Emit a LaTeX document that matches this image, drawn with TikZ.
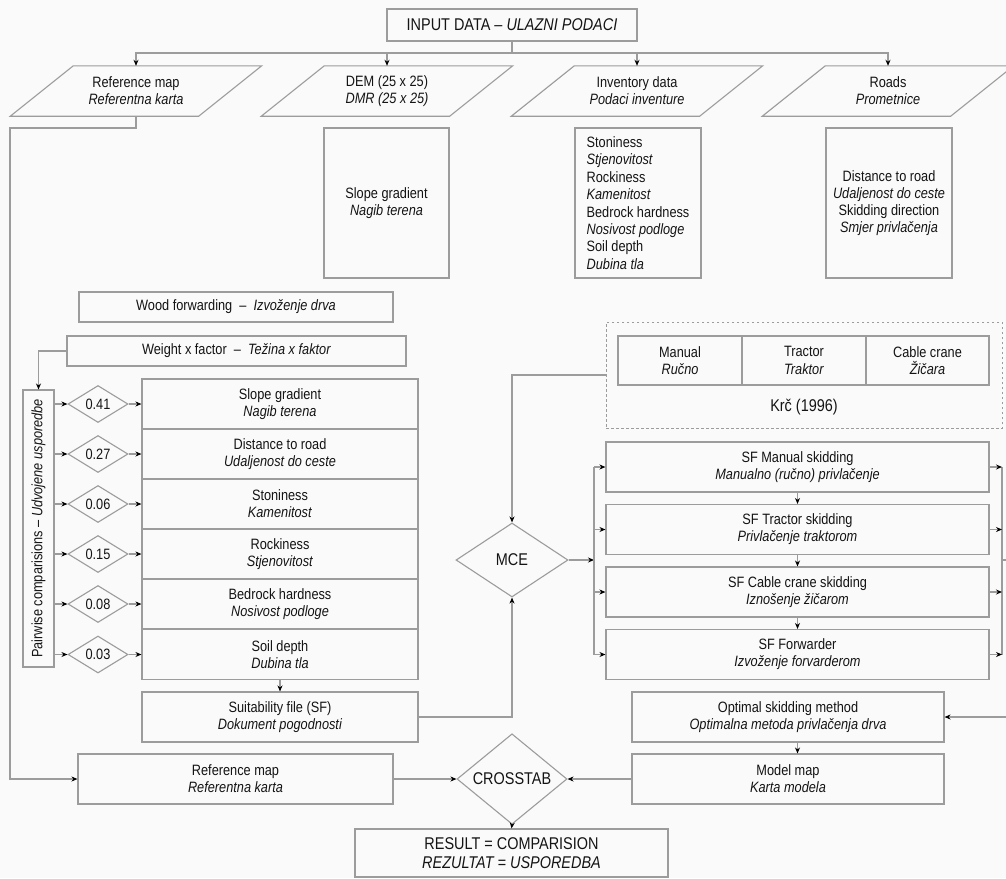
\documentclass[tikz,border=0pt]{standalone}
\usepackage{fontspec}
\setmainfont{Liberation Sans}[FakeStretch=0.85]
\usetikzlibrary{shapes.geometric,arrows.meta,calc}
\definecolor{ln}{HTML}{9C9C9C}
\definecolor{tx}{HTML}{141414}
\tikzset{
  box/.style={draw=ln, line width=1.1pt, rectangle, inner sep=0pt, align=center, text=tx,
              font=\fontsize{15pt}{17.2pt}\selectfont},
  plain/.style={inner sep=0pt, align=center, text=tx, font=\fontsize{15pt}{17.2pt}\selectfont},
  big/.style={font=\fontsize{17pt}{19pt}\selectfont},
  dia/.style={draw=ln, line width=1.1pt, diamond, inner sep=0pt, text=tx,
              font=\fontsize{15pt}{17pt}\selectfont},
  conn/.style={draw=ln, line width=1.1pt},
  arr/.style={draw=ln, line width=1.1pt, -{Stealth[length=6pt,width=5pt,color=black]}},
}
\begin{document}
\begin{tikzpicture}[x=1pt,y=-1pt]
\useasboundingbox (0,0) rectangle (1006,878);
\fill[white!98!black] (0,0) rectangle (1006,878);
\clip (0,0) rectangle (1006,878);

% title
\node[box,big,minimum width=250pt,minimum height=32pt] (title) at (512,25) {INPUT DATA -- \textit{ULAZNI PODACI}};
\coordinate (bus) at (512,53);

% parallelograms
\foreach \n/\x/\a/\b in {p1/136/Reference map/Referentna karta,
                         p2/387/DEM (25 x 25)/DMR (25 x 25),
                         p3/637/Inventory data/Podaci inventure,
                         p4/888/Roads/Prometnice}{
  \node[plain,minimum width=251pt,minimum height=50pt] (\n) at (\x,91) {\a\\\textit{\b}};
  \draw[conn] ([xshift=63pt]\n.north west) -- (\n.north east)
     -- ([xshift=-63pt]\n.south east) -- (\n.south west) -- cycle;
}
\draw[conn] (title.south) -- (bus);
\draw[arr] (bus) -| (p1.north);
\draw[arr] (bus) -| (p2.north);
\draw[arr] (bus) -| (p3.north);
\draw[arr] (bus) -| (p4.north);

% boxes below inputs
\node[box,minimum width=125pt,minimum height=150pt] (b2) at (386.5,203) {Slope gradient\\\textit{Nagib terena}};
\node[box,minimum width=126pt,minimum height=150pt,align=left,font=\fontsize{15pt}{17.4pt}\selectfont] (b3) at (638,203)
  {Stoniness\\\textit{Stjenovitost}\\Rockiness\\\textit{Kamenitost}\\Bedrock hardness\\\textit{Nosivost podloge}\\Soil depth\\\textit{Dubina tla}};
\node[box,minimum width=126pt,minimum height=150pt] (b4) at (889,203)
  {Distance to road\\\textit{Udaljenost do ceste}\\Skidding direction\\\textit{Smjer privlačenja}};

% wood forwarding / weight
\node[box,minimum width=314pt,minimum height=30pt] (wf) at (236,307) {Wood forwarding \ -- \ \textit{Izvoženje drva}};
\node[box,minimum width=339pt,minimum height=30pt] (wx) at (236.5,351) {Weight x factor \ -- \ \textit{Težina x faktor}};

% pairwise box
\node[box,minimum width=31pt,minimum height=277pt] (pw) at (38.5,528.5) {};
\node[plain,rotate=90] (pwt) at (pw.center) {Pairwise comparisions -- \textit{Udvojene usporedbe}};
\draw[arr] (wx.west) -| (pw.north);

% weights and factors
\foreach \i/\y/\w/\a/\b in {1/404/0.41/Slope gradient/Nagib terena,
                            2/454/0.27/Distance to road/Udaljenost do ceste,
                            3/504/0.06/Stoniness/Kamenitost,
                            4/554/0.15/Rockiness/Stjenovitost,
                            5/604/0.08/Bedrock hardness/Nosivost podloge,
                            6/654.5/0.03/Soil depth/Dubina tla}{
  \node[dia,minimum width=60pt,minimum height=37pt] (d\i) at (98,\y) {\w};
  \node[box,minimum width=276pt,minimum height=50pt] (f\i) at (280,\y) {\a\\\textit{\b}};
  \draw[arr] (d\i.west -| pw.east) -- (d\i.west);
  \draw[arr] (d\i.east) -- (f\i.west);
}

% suitability file
\node[box,minimum width=276pt,minimum height=50pt] (sf) at (280,717) {Suitability file (SF)\\\textit{Dokument pogodnosti}};
\draw[arr] (f6.south) -- (sf.north);

% Krc box
\node[draw=ln,line width=1pt,dash pattern=on 2.5pt off 2.5pt,minimum width=396pt,minimum height=106pt,inner sep=0pt] (krc) at (804,375) {};
\node[box,minimum width=124pt,minimum height=49pt] (man) at (680,360.5) {Manual\\\textit{Ručno}};
\node[box,minimum width=124pt,minimum height=49pt] (tra) at (804,360.5) {Tractor\\\textit{Traktor}};
\node[box,minimum width=123pt,minimum height=49pt] (cab) at (927.5,360.5) {Cable crane\\\textit{Žičara}};
\node[plain,big] (krct) at (804,407) {Krč (1996)};

% MCE
\node[dia,big,minimum width=112pt,minimum height=74pt] (mce) at (512,560) {MCE};
\draw[arr] (krc.west) -| (mce.north);
\draw[arr] (sf.east) -| (mce.south);

% SF boxes
\node[box,minimum width=383pt,minimum height=50pt] (sfm) at (797.5,467) {SF Manual skidding\\\textit{Manualno (ručno) privlačenje}};
\node[box,minimum width=383pt,minimum height=50pt] (sft) at (797.5,529.5) {SF Tractor skidding\\\textit{Privlačenje traktorom}};
\node[box,minimum width=383pt,minimum height=50pt] (sfc) at (797.5,592) {SF Cable crane skidding\\\textit{Iznošenje žičarom}};
\node[box,minimum width=383pt,minimum height=50pt] (sff) at (797.5,654.5) {SF Forwarder\\\textit{Izvoženje forvarderom}};
\draw[arr] (sfm.south) -- (sft.north);
\draw[arr] (sft.south) -- (sfc.north);
\draw[arr] (sfc.south) -- (sff.north);

\coordinate (lb) at (594,560);
\draw[arr] (mce.east) -- (lb);
\draw[conn] (sfm.west -| lb) -- (sff.west -| lb);
\foreach \b in {sfm,sft,sfc,sff}{\draw[arr] (\b.west -| lb) -- (\b.west);}

\coordinate (rb) at (1002,560);
\draw[conn] (sfm.east -| rb) -- (sff.east -| rb);
\foreach \b in {sfm,sft,sfc,sff}{\draw[arr] (\b.east) -- (\b.east -| rb);}
\coordinate (rs) at (1014,560);
\draw[conn] (rb) -- (rs);

% optimal and model
\node[box,minimum width=312pt,minimum height=50pt] (opt) at (788,717) {Optimal skidding method\\\textit{Optimalna metoda privlačenja drva}};
\draw[arr] (rs) |- (opt.east);
\node[box,minimum width=312pt,minimum height=50pt] (mod) at (788,779) {Model map\\\textit{Karta modela}};
\draw[arr] (sff.south |- opt.south) -- (sff.south |- mod.north);

% reference map box
\node[box,minimum width=315pt,minimum height=50pt] (ref) at (235.5,779) {Reference map\\\textit{Referentna karta}};
\coordinate (r1) at (136,128);
\coordinate (r2) at (10,128);
\draw[arr] (p1.south) -- (r1) -- (r2) |- (ref.west);

% crosstab
\node[dia,big,minimum width=110pt,minimum height=76pt] (ct) at (512,779) {CROSSTAB};
\draw[arr] (ref.east) -- (ct.west);
\draw[arr] (mod.west) -- (ct.east);

% result
\node[box,big,minimum width=313pt,minimum height=48pt] (res) at (511.5,853) {RESULT = COMPARISION\\\textit{REZULTAT = USPOREDBA}};
\draw[arr] (ct.south) -- (res.north);
\end{tikzpicture}
\end{document}
